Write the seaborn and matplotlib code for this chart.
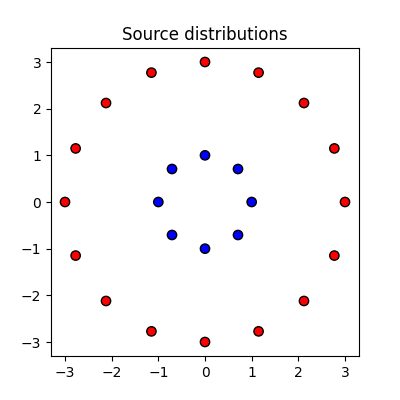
import matplotlib
matplotlib.use("Agg")
import matplotlib.pyplot as plt
import seaborn as sns
import pandas as pd

inner_x = [1.0, 0.707, 0.0, -0.707, -1.0, -0.707, 0.0, 0.707]
inner_y = [0.0, 0.707, 1.0, 0.707, 0.0, -0.707, -1.0, -0.707]
outer_x = [3.0, 2.772, 2.121, 1.148, 0.0, -1.148, -2.121, -2.772,
           -3.0, -2.772, -2.121, -1.148, 0.0, 1.148, 2.121, 2.772]
outer_y = [0.0, 1.148, 2.121, 2.772, 3.0, 2.772, 2.121, 1.148,
           0.0, -1.148, -2.121, -2.772, -3.0, -2.772, -2.121, -1.148]

df = pd.DataFrame({
    "x": inner_x + outer_x,
    "y": inner_y + outer_y,
    "group": ["inner"] * len(inner_x) + ["outer"] * len(outer_x),
})

fig, ax = plt.subplots(figsize=(4, 4), dpi=100)
sns.scatterplot(data=df, x="x", y="y", hue="group",
                palette={"inner": "blue", "outer": "red"},
                edgecolor="black", linewidth=1, s=45, legend=False, ax=ax)
ax.set_aspect("equal")
ax.set_xlabel("")
ax.set_ylabel("")
ax.set_xticks([-3, -2, -1, 0, 1, 2, 3])
ax.set_yticks([-3, -2, -1, 0, 1, 2, 3])
ax.set_title("Source distributions")
fig.savefig("out.png", dpi=100)
